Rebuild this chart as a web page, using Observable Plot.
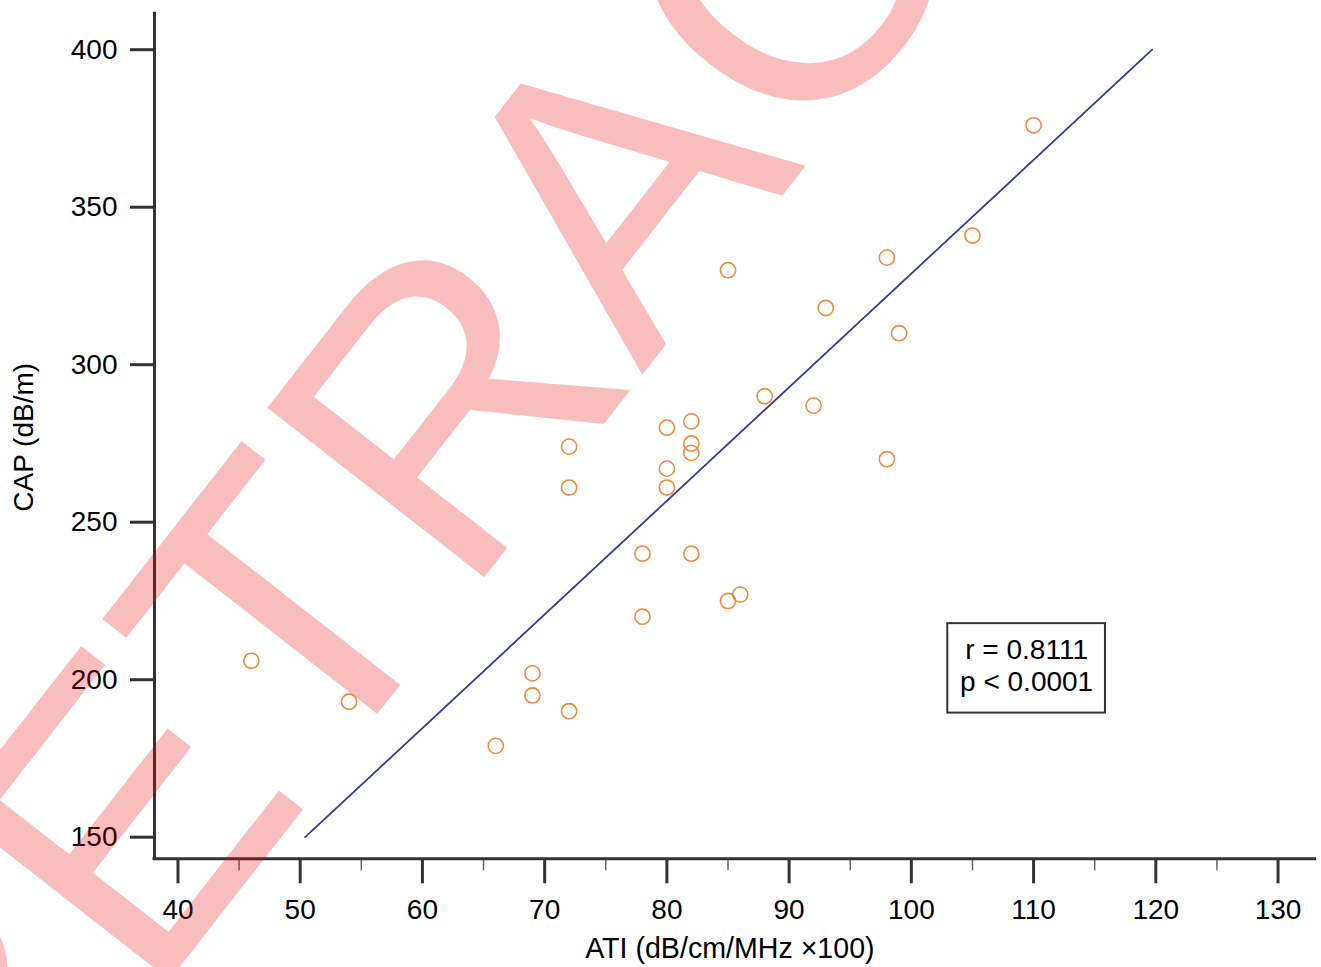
<!DOCTYPE html>
<html>
<head>
<meta charset="utf-8">
<script src="https://cdn.jsdelivr.net/npm/d3@7"></script>
<script src="https://cdn.jsdelivr.net/npm/@observablehq/plot@0.6"></script>
<style>
  html, body { margin: 0; padding: 0; background: #fff; }
  #chart svg { display: block; }
</style>
</head>
<body>
<div id="chart"></div>
<script>
// ---- data ----
const ati = [46, 54, 66, 69, 69, 72, 72, 72, 78, 78, 80, 80, 80, 82, 82, 82, 82, 85, 85, 86, 88, 92, 93, 98, 98, 99, 105, 110];
const cap = [206, 193, 179, 202, 195, 190, 274, 261, 240, 220, 280, 267, 261, 282, 275, 272, 240, 330, 225, 227, 290, 287, 318, 334, 270, 310, 341, 376];

const xTicks = [40, 50, 60, 70, 80, 90, 100, 110, 120, 130];
const xMinorTicks = [45, 55, 65, 75, 85, 95, 105, 115, 125];
const yTicks = [150, 200, 250, 300, 350, 400];

const xLabel = "ATI (dB/cm/MHz \u00d7100)";
const yLabel = "CAP (dB/m)";
const statsLines = ["r = 0.8111", "p < 0.0001"];
const watermarkText = "RETRACTED";

// ---- layout / style options ----
const xDomain = [38.08, 133.04];
const yDomain = [143.14, 411.4];
const statsBox = {x1: 102.98, x2: 115.88, y1: 189.4, y2: 217.8};
const statsBaselines = [206.6, 196.5];
const font = "Liberation Sans, Arial, Helvetica, sans-serif";
const ink = "#000";

// reduced-major-axis fit through the means, drawn over the y tick range
const mx = d3.mean(ati), my = d3.mean(cap);
const slope = d3.deviation(cap) / d3.deviation(ati);
const fit = d3.extent(yTicks).map(y => ({x: mx + (y - my) / slope, y}));

const points = ati.map((x, i) => ({x, y: cap[i]}));
const stats = statsLines.map((t, i) => ({t, x: (statsBox.x1 + statsBox.x2) / 2, y: statsBaselines[i]}));

const chart = Plot.plot({
  width: 1321,
  height: 967,
  marginLeft: 154,
  marginRight: 6.3,
  marginTop: 13.3,
  marginBottom: 108.7,
  style: {fontFamily: font, background: "#fff", color: ink, overflow: "hidden"},
  x: {domain: xDomain},
  y: {domain: yDomain},
  marks: [
    Plot.axisX(xMinorTicks, {tickSize: 12, strokeWidth: 1.5, stroke: "#666", text: null, label: null}),
    Plot.axisX(xTicks, {tickSize: 25, tickPadding: 15, strokeWidth: 3, stroke: "#333", fill: ink, fontSize: 28, label: null}),
    Plot.axisY(yTicks, {tickSize: 24, tickPadding: 13, strokeWidth: 3, stroke: "#333", fill: ink, fontSize: 28, label: null}),
    Plot.ruleX([xDomain[0]], {stroke: "#333", strokeWidth: 3, strokeLinecap: "square"}),
    Plot.ruleY([yDomain[0]], {stroke: "#333", strokeWidth: 3, strokeLinecap: "square"}),
    Plot.line(fit, {x: "x", y: "y", stroke: "#3a3a9c", strokeWidth: 1.8}),
    Plot.dot(points, {x: "x", y: "y", r: 7.6, stroke: "#f28a3e", strokeWidth: 1.6, fill: "none"}),
    Plot.rect([statsBox], {x1: "x1", x2: "x2", y1: "y1", y2: "y2", fill: "none", stroke: "#333", strokeWidth: 2}),
    Plot.text(stats, {x: "x", y: "y", text: "t", fontSize: 28, fill: ink, textAnchor: "middle", lineAnchor: "bottom"}),
    Plot.text([yLabel], {frameAnchor: "left", dx: -130, dy: 1, rotate: -90, fontSize: 28, fill: ink, textAnchor: "middle", lineAnchor: "middle"}),
    Plot.text([xLabel], {frameAnchor: "bottom", dx: -5, dy: 99, fontSize: 28.6, fill: ink, textAnchor: "middle", lineAnchor: "bottom"}),
    Plot.text([watermarkText], {frameAnchor: "top-left", dx: -183, dy: 1219.7, rotate: -52, fontSize: 400, fontFamily: font,
      fill: "rgb(235,0,0)", fillOpacity: 0.26, textAnchor: "start", lineAnchor: "bottom"})
  ]
});

document.getElementById("chart").appendChild(chart);
</script>
</body>
</html>
